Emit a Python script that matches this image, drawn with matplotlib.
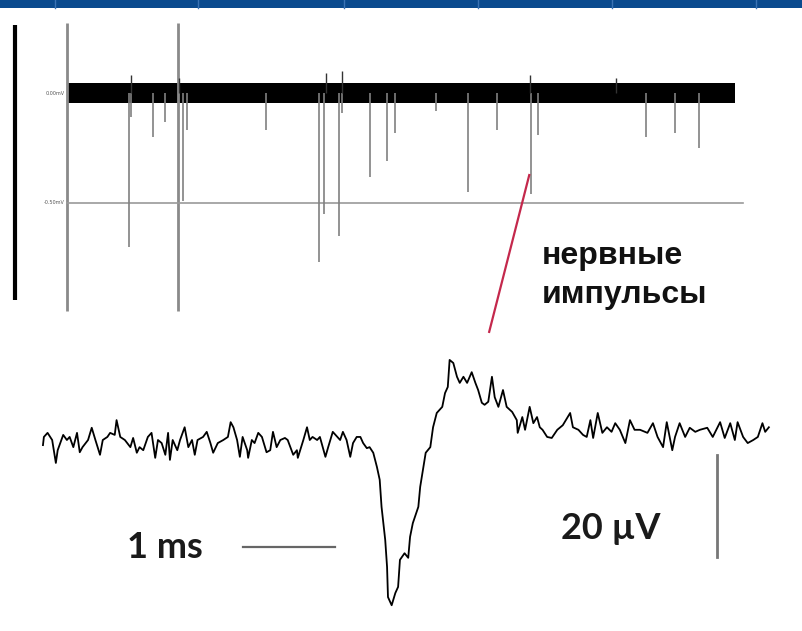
import numpy as np
import matplotlib
matplotlib.use("Agg")
import matplotlib.pyplot as plt
from matplotlib.patches import Rectangle

# ---- overview recording (time in s, amplitude in mV) ----
trace_end_s = 10.0
noise_halfwidth_mv = 0.045
spike_times_s = [0.93, 0.96, 1.29, 1.47, 1.74, 1.80, 2.98, 3.77, 3.85, 4.07, 4.12,
                 4.54, 4.79, 4.91, 5.52, 6.00, 6.44, 6.95, 7.05, 8.67, 9.10, 9.46]
spike_depth_mv = [-0.70, -0.11, -0.20, -0.13, -0.49, -0.17, -0.17, -0.77, -0.55, -0.65, -0.09,
                  -0.38, -0.31, -0.18, -0.08, -0.45, -0.17, -0.46, -0.19, -0.20, -0.18, -0.25]
upward_times_s = [0.96, 1.68, 3.87, 4.12, 6.93, 8.22]
upward_peak_mv = [0.08, 0.07, 0.09, 0.10, 0.08, 0.07]
cursor_times_s = [0.0, 1.66]
level_labels = ["0.00mV", "-0.50mV"]
level_values_mv = [0.0, -0.5]

# ---- single averaged impulse (time in ms, amplitude in uV) ----
wave_t_ms = [0.00, 0.01, 0.05, 0.10, 0.14, 0.16, 0.22, 0.26, 0.29, 0.33, 0.37, 0.40, 0.43, 0.49,
             0.53, 0.57, 0.62, 0.65, 0.70, 0.73, 0.78, 0.80, 0.84, 0.89, 0.95, 0.98, 1.02, 1.05,
             1.09, 1.14, 1.18, 1.22, 1.25, 1.29, 1.33, 1.36, 1.38, 1.41, 1.46, 1.49, 1.54, 1.58,
             1.62, 1.65, 1.68, 1.74, 1.78, 1.82, 1.85, 1.90, 1.96, 2.01, 2.04, 2.07, 2.11, 2.14,
             2.17, 2.22, 2.23, 2.27, 2.30, 2.34, 2.38, 2.43, 2.47, 2.50, 2.54, 2.58, 2.63, 2.66,
             2.72, 2.76, 2.77, 2.83, 2.87, 2.90, 2.93, 2.98, 3.01, 3.07, 3.10, 3.15, 3.20, 3.23,
             3.26, 3.30, 3.34, 3.37, 3.41, 3.45, 3.48, 3.52, 3.55, 3.59, 3.63, 3.66, 3.68, 3.72,
             3.74, 3.75, 3.79, 3.83, 3.86, 3.88, 3.93, 3.97, 3.99, 4.02, 4.08, 4.10, 4.13, 4.16,
             4.21, 4.24, 4.28, 4.34, 4.37, 4.40, 4.42, 4.46, 4.50, 4.53, 4.57, 4.61, 4.66, 4.70,
             4.73, 4.77, 4.80, 4.84, 4.88, 4.91, 4.95, 5.00, 5.04, 5.10, 5.15, 5.16, 5.21, 5.24,
             5.29, 5.33, 5.37, 5.40, 5.43, 5.48, 5.53, 5.59, 5.65, 5.73, 5.76, 5.82, 5.87, 5.91,
             5.95, 5.98, 6.03, 6.08, 6.13, 6.18, 6.22, 6.27, 6.33, 6.38, 6.43, 6.49, 6.57, 6.63,
             6.68, 6.74, 6.78, 6.84, 6.87, 6.92, 6.98, 7.03, 7.09, 7.14, 7.22, 7.28, 7.36, 7.41,
             7.47, 7.52, 7.55, 7.61, 7.66, 7.72, 7.77, 7.82, 7.85, 7.89]
wave_uv = [-1.0, 0.6, 1.4, 0.0, -4.5, -2.0, 1.0, 0.0, 0.6, -1.4, 1.4, -2.4, -1.4, 0.0,
           2.4, 0.0, -2.9, 0.0, 0.6, 1.4, 1.0, 3.9, 0.6, 0.0, -1.4, 0.4, -2.5, -1.4,
           -2.0, 0.6, 1.4, -3.5, 0.0, -0.6, -2.9, 1.4, -3.9, 0.0, -2.0, 0.0, 2.5, -1.4,
           0.0, -2.9, 0.0, 0.6, 1.6, -0.6, -2.5, -0.6, 0.0, 0.6, 3.5, 2.5, 0.0, -3.3,
           0.6, -2.0, -3.5, 0.0, -0.6, 1.4, 0.6, -2.4, -2.0, 1.6, -1.4, 0.0, 0.4, 0.0,
           -2.9, -2.0, -3.5, 0.0, 2.5, 0.0, 0.6, 0.0, 0.6, -3.3, -1.4, 1.6, 0.6, 0.0,
           1.6, 0.0, -3.3, -0.6, 0.6, 0.6, -0.6, -1.6, -1.4, -2.5, -5.3, -7.8, -13.1, -19.6,
           -24.9, -30.8, -32.4, -30.0, -28.8, -23.5, -22.2, -23.1, -19.0, -16.3, -13.1, -9.2, -5.9, -2.5,
           -1.4, 2.5, 5.3, 6.5, 9.2, 10.4, 15.7, 15.1, 12.4, 11.2, 12.4, 11.2, 13.3, 11.2,
           9.8, 7.3, 6.9, 7.5, 12.4, 8.4, 6.5, 9.8, 6.5, 5.5, 3.9, 1.4, 4.5, 2.0,
           6.5, 3.3, 4.5, 2.5, 2.0, 0.6, 0.4, 2.0, 2.9, 5.3, 2.5, 2.0, 1.0, 0.6,
           3.9, 0.4, 5.3, 1.4, 2.5, 1.6, 3.3, 2.0, -0.6, 3.9, 2.0, 2.0, 1.4, 3.3,
           0.6, -1.4, 3.5, -2.0, 0.6, 3.3, 0.6, 2.4, 1.6, 2.0, 2.4, 0.6, 3.5, 0.4,
           3.3, 0.0, 3.5, 0.6, -0.6, 0.0, 0.6, 3.3, 1.6, 2.5]

scale_ms = 1.0
scale_uv = 20.0

fig = plt.figure(figsize=(8.02, 6.31), dpi=100)

# header band
fig.patches.append(Rectangle((0, 0.9873), 1, 0.0127, transform=fig.transFigure,
                             facecolor="#0a4a8e", edgecolor="none", zorder=5))
for xs in [55, 198, 344, 478, 612, 756]:
    fig.add_artist(plt.Line2D([xs / 802, xs / 802], [0.9873, 1.0], transform=fig.transFigure,
                              color="#3b73b5", lw=1.0, zorder=6))

# ---- top panel ----
ax1 = fig.add_axes([0, 1 - 320 / 631, 1, 300 / 631])
ax1.set_xlim(-1.003, 11.003)
ax1.set_ylim(-1.032, 0.332)
ax1.axis("off")

ax1.plot([-0.78, -0.78], [-0.94, 0.31], color="black", lw=3, solid_capstyle="butt")
for ct in cursor_times_s:
    ax1.plot([ct, ct], [-0.99, 0.32], color="#8a8a8a", lw=2, solid_capstyle="butt")
ax1.plot([0, 10.12], [level_values_mv[1]] * 2, color="#9a9a9a", lw=1.2)
ax1.vlines(spike_times_s, 0, spike_depth_mv, color="#808080", lw=1.2)
ax1.vlines(upward_times_s, 0, upward_peak_mv, color="#333333", lw=1.0)
ax1.fill_between([0, trace_end_s], -noise_halfwidth_mv, noise_halfwidth_mv,
                 color="black", lw=0)
for lab, lv in zip(level_labels, level_values_mv):
    ax1.text(-0.03, lv, lab, ha="right", va="center", fontsize=3.5, color="#555555")

# pointer from one impulse to the caption
ax1.plot([6.92, 6.32], [-0.373, -1.086], color="#c4284c", lw=1.6, clip_on=False)

cap_kw = dict(fontsize=23, fontweight="bold", family="Liberation Sans", color="#111111")
fig.text(542 / 802, 1 - 264 / 631, "нервные", va="baseline", **cap_kw)
fig.text(542 / 802, 1 - 303 / 631, "импульсы", va="baseline", **cap_kw)

# ---- bottom panel ----
ax2 = fig.add_axes([0, 0, 1, 301 / 631])
ax2.set_xlim(-0.467, 8.25)
ax2.set_ylim(-37.45, 21.57)
ax2.axis("off")

ax2.plot(wave_t_ms, wave_uv, color="black", lw=1.3)

hb_t0, hb_y = 2.17, -21.0
ax2.plot([hb_t0, hb_t0 + scale_ms], [hb_y, hb_y], color="#666666", lw=1.6)
vb_t, vb_y0 = 7.33, -22.9
ax2.plot([vb_t, vb_t], [vb_y0, vb_y0 + scale_uv], color="#777777", lw=2)

lab_kw = dict(fontsize=26, fontweight="bold", family="Lato", color="#1a1a1a")
ax2.text(0.91, hb_y, "1 ms", ha="left", va="center", **lab_kw)
ax2.text(5.63, -17.3, "20 µV", ha="left", va="center", **lab_kw)

fig.savefig("out.png", dpi=100, facecolor="white")
